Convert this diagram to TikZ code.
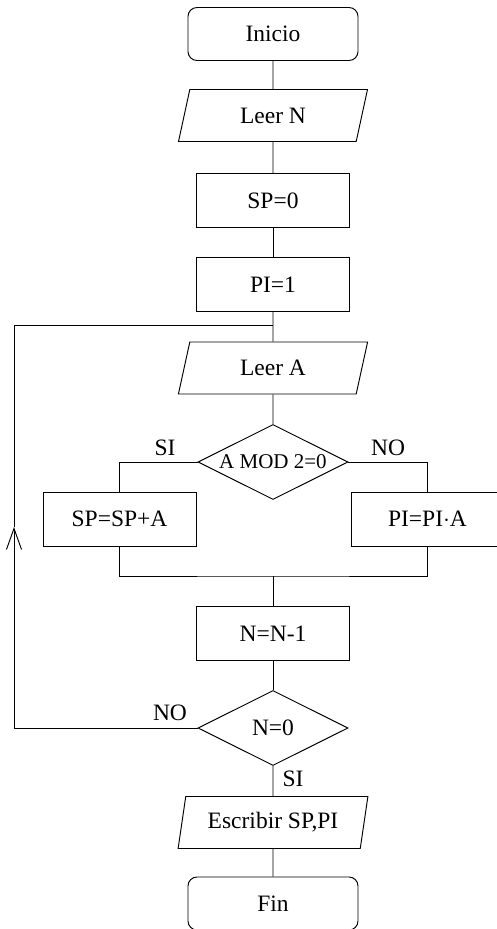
\documentclass[tikz,border=0pt]{standalone}
\usepackage{fontspec}
\setmainfont{Liberation Serif}
\usetikzlibrary{shapes.geometric,arrows.meta}
\begin{document}
\begin{tikzpicture}[x=1pt,y=-1pt,line width=0.95pt,
  every node/.style={font=\fontsize{23.5}{28}\selectfont},
  terminal/.style={draw,rectangle,rounded corners=9pt,minimum width=170pt,minimum height=53pt,inner sep=0pt},
  procbox/.style={draw,rectangle,minimum width=153pt,minimum height=54pt,inner sep=0pt},
  iobox/.style={draw,trapezium,trapezium left angle=74,trapezium right angle=106,
    trapezium stretches=true,minimum width=190pt,minimum height=52pt,inner sep=0pt},
  decision/.style={draw,diamond,aspect=2,minimum width=150pt,minimum height=75pt,inner sep=0pt},
  lbl/.style={inner sep=0pt},
  loopend/.style={-{Straight Barb[length=21pt,width=15pt]}}
]
\path[use as bounding box,clip] (0,0) rectangle (497,929);

% main column
\node[terminal] (inicio) at (273,34) {Inicio};
\node[iobox]    (leern)  at (273,115.5) {Leer N};
\node[procbox]  (sp0)    at (273,200.5) {SP=0};
\node[procbox]  (pi1)    at (273,284.5) {PI=1};
\node[iobox]    (leera)  at (273,368) {Leer A};
\node[decision,font=\fontsize{21}{25}\selectfont] (mod) at (273,462) {A MOD 2=0};
\node[procbox]  (spa)    at (119.5,519) {SP=SP+A};
\node[procbox]  (pia)    at (427.5,519) {PI=PI$\cdot$A};
\node[procbox]  (nn1)    at (273,633.5) {N=N-1};
\node[decision] (n0)     at (273,728) {N=0};
\node[iobox]    (esc)    at (273,822.5) {Escribir SP,PI};
\node[terminal] (fin)    at (273,903.5) {Fin};

% branch labels
\node[lbl] (si1) at (165,448) {SI};
\node[lbl] (no1) at (388,448) {NO};
\node[lbl] (no2) at (170,713) {NO};
\node[lbl] (si2) at (293,779) {SI};

% helper points
\coordinate (join)   at (273,325);
\coordinate (merge)  at (273,576);
\coordinate (looptip) at (14,527);

% connectors
\draw (inicio) -- (leern);
\draw (leern) -- (sp0);
\draw (sp0) -- (pi1);
\draw (pi1) -- (leera);
\draw (leera) -- (mod);
\draw (mod.west) -| (spa.north);
\draw (mod.east) -| (pia.north);
\draw (spa.south) |- (merge) -| (pia.south);
\draw (merge) -- (nn1.north);
\draw (nn1) -- (n0);
\draw (n0) -- (esc);
\draw (esc) -- (fin);
\draw[loopend] (n0.west) -| (looptip);
\draw (looptip) |- (join);
\end{tikzpicture}
\end{document}
